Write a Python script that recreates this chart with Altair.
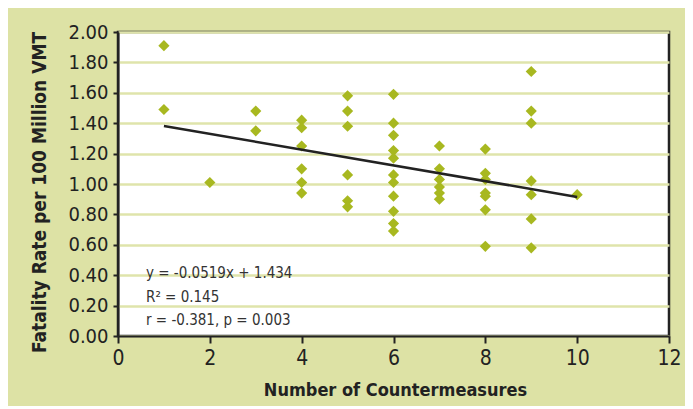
import altair as alt
import pandas as pd

# Data
countermeasures = [1, 1,
                   2,
                   3, 3,
                   4, 4, 4, 4, 4, 4,
                   5, 5, 5, 5, 5, 5,
                   6, 6, 6, 6, 6, 6, 6, 6, 6, 6, 6,
                   7, 7, 7, 7, 7, 7,
                   8, 8, 8, 8, 8, 8, 8,
                   9, 9, 9, 9, 9, 9, 9,
                   10]
fatality_rate = [1.91, 1.49,
                 1.01,
                 1.48, 1.35,
                 1.42, 1.37, 1.25, 1.10, 1.01, 0.94,
                 1.58, 1.48, 1.38, 1.06, 0.89, 0.85,
                 1.59, 1.40, 1.32, 1.22, 1.17, 1.06, 1.01, 0.92, 0.82, 0.74, 0.69,
                 1.25, 1.10, 1.03, 0.98, 0.94, 0.90,
                 1.23, 1.07, 1.03, 0.94, 0.92, 0.83, 0.59,
                 1.74, 1.48, 1.40, 1.02, 0.93, 0.77, 0.58,
                 0.93]

slope = -0.0519
intercept = 1.434
annotation_lines = ["y = -0.0519x + 1.434", "R\u00b2 = 0.145", "r = -0.381, p = 0.003"]

x_ticks = [0, 2, 4, 6, 8, 10, 12]
y_ticks = [0.0, 0.2, 0.4, 0.6, 0.8, 1.0, 1.2, 1.4, 1.6, 1.8, 2.0]

points = pd.DataFrame({"x": countermeasures, "y": fatality_rate})
line_x = [min(countermeasures), max(countermeasures)]
trend = pd.DataFrame({"x": line_x, "y": [slope * v + intercept for v in line_x]})

FONT = "DejaVu Sans Condensed"
W, H = 551, 304

xscale = alt.Scale(domain=[0, 12], nice=False)
yscale = alt.Scale(domain=[0, 2], nice=False)

x_axis = alt.Axis(values=x_ticks, tickCount=7, title="Number of Countermeasures", grid=False,
                  tickSize=7, tickColor="#222", tickWidth=2, domainColor="#222",
                  domainWidth=2, labelPadding=4, labelFontSize=21, labelColor="#222",
                  labelOverlap=False, labelFlush=False,
                  labelFont=FONT, titleFont=FONT, titleFontSize=18, titleFontWeight="bold",
                  titleColor="#222", titleX=277, titleY=59, titleBaseline="alphabetic")
y_axis = alt.Axis(values=y_ticks, tickCount=11, format=".2f",
                  title="Fatality Rate per 100 Million VMT",
                  grid=True, gridColor="#dfe4ab", gridWidth=2.5,
                  tickSize=5, tickColor="#222", tickWidth=2, domainColor="#222",
                  domainWidth=2, labelPadding=5, labelFontSize=20, labelColor="#222",
                  labelOverlap=False, labelFlush=False,
                  labelFont=FONT, titleFont=FONT, titleFontSize=19, titleFontWeight="bold",
                  titleColor="#222", titleX=-79, titleY=160, titleBaseline="middle",
                  titleAngle=-90)

pts = alt.Chart(points).mark_point(shape="diamond", filled=True, size=125,
                                   color="#a8b820", opacity=1).encode(
    x=alt.X("x:Q", scale=xscale, axis=x_axis),
    y=alt.Y("y:Q", scale=yscale, axis=y_axis),
)

line = alt.Chart(trend).mark_line(color="#222", strokeWidth=2.5).encode(
    x=alt.X("x:Q", scale=xscale, axis=x_axis),
    y=alt.Y("y:Q", scale=yscale, axis=y_axis),
)

baselines = [246, 270, 293]
text_layers = []
for s, b in zip(annotation_lines, baselines):
    text_layers.append(
        alt.Chart(pd.DataFrame({"t": [s]})).mark_text(
            align="left", baseline="alphabetic", font=FONT, fontSize=15, color="#333"
        ).encode(x=alt.value(28), y=alt.value(b), text="t:N")
    )

chart = alt.layer(pts, line, *text_layers).properties(
    width=W, height=H,
    autosize=alt.AutoSizeParams(type="none"),
    padding={"left": 110, "top": 24, "right": 16, "bottom": 70},
    background="#dde2a5",
).configure_view(fill="white", stroke="#222", strokeWidth=2.5)

chart.save("out.html", embed_options={"renderer": "svg", "actions": False})
